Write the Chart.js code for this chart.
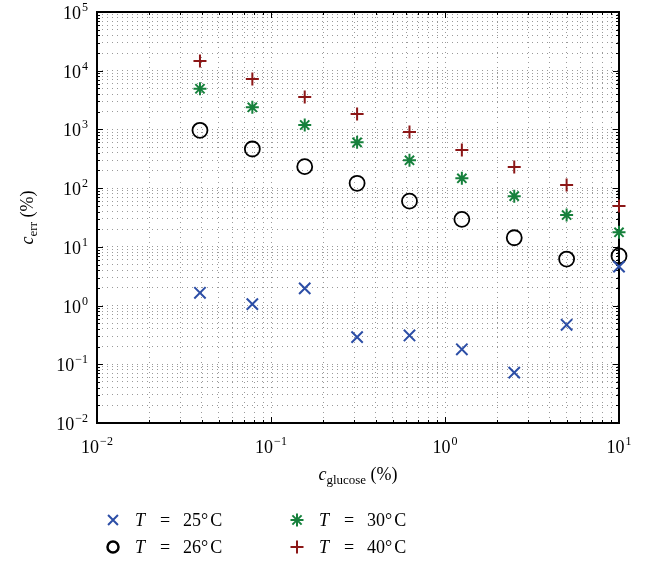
<!DOCTYPE html>
<html>
<head>
<meta charset="utf-8">
<script src="https://cdn.jsdelivr.net/npm/chart.js@4"></script>
<style>
html, body { margin: 0; padding: 0; background: #fff; }
#wrap { width: 648px; height: 562px; position: relative; }
</style>
</head>
<body>
<div id="wrap"><canvas id="chart"></canvas></div>
<script>
// glucose concentration (%) and error (%) per temperature
const glucose = [0.0390625, 0.078125, 0.15625, 0.3125, 0.625, 1.25, 2.5, 5, 10];
const err25 = [1.65, 1.06, 1.96, 0.29, 0.31, 0.18, 0.072, 0.47, 4.6];
const err26 = [966, 464, 232, 121, 60, 29.4, 14.3, 6.2, 7.0];
const err30 = [4930, 2380, 1190, 603, 298, 147, 73, 34.8, 17.7];
const err40 = [14600, 7220, 3570, 1830, 903, 447, 229, 113, 49.5];
const tempLabels = ['25', '26', '30', '40'];
const xDecades = [-2, -1, 0, 1];
const yDecades = [-2, -1, 0, 1, 2, 3, 4, 5];

const SERIF = '"Liberation Serif", "DejaVu Serif", serif';
const colors = ['#2c4ea6', '#000000', '#16803c', '#8c1717'];
const styles = ['crossRot', 'circle', 'star', 'cross'];
const radii = [8, 7.5, 6.5, 6.5];

function logTicks(decades) {
    let out = [];
    for (let i = 0; i < decades.length - 1; i++) {
        for (let k = 1; k <= 9; k++) out.push({ value: k * Math.pow(10, decades[i]), major: k === 1, exp: decades[i] });
    }
    const last = decades[decades.length - 1];
    out.push({ value: Math.pow(10, last), major: true, exp: last });
    return out;
}
const xTicks = logTicks(xDecades);
const yTicks = logTicks(yDecades);

function pts(ys) { return glucose.map((x, i) => ({ x: x, y: ys[i] })); }

function drawPow(ctx, exp, x, y, align) {
    ctx.font = '18px ' + SERIF;
    const base = '10';
    const sup = exp < 0 ? '\u2212' + Math.abs(exp) : String(exp);
    const wb = ctx.measureText(base).width;
    ctx.font = '12px ' + SERIF;
    const ws = ctx.measureText(sup).width;
    let x0 = align === 'right' ? x - wb - ws - 1 : x - (wb + ws + 1) / 2;
    ctx.textAlign = 'left';
    ctx.textBaseline = 'alphabetic';
    ctx.font = '18px ' + SERIF;
    ctx.fillText(base, x0, y);
    ctx.font = '12px ' + SERIF;
    ctx.fillText(sup, x0 + wb + 1, y - 8);
}

const framePlugin = {
    id: 'frame',
    beforeDatasetsDraw(chart) {
        const ctx = chart.ctx, a = chart.chartArea;
        const xs = chart.scales.x, ys = chart.scales.y;
        ctx.save();
        ctx.strokeStyle = '#000';
        ctx.lineWidth = 1;
        ctx.beginPath();
        xTicks.forEach(t => {
            const px = Math.round(xs.getPixelForValue(t.value)) + 0.5;
            const len = t.major ? 6 : 3;
            ctx.moveTo(px, a.bottom); ctx.lineTo(px, a.bottom - len);
            ctx.moveTo(px, a.top); ctx.lineTo(px, a.top + len);
        });
        yTicks.forEach(t => {
            const py = Math.round(ys.getPixelForValue(t.value)) + 0.5;
            const len = t.major ? 6 : 3;
            ctx.moveTo(a.left, py); ctx.lineTo(a.left + len, py);
            ctx.moveTo(a.right, py); ctx.lineTo(a.right - len, py);
        });
        ctx.stroke();
        ctx.lineWidth = 2;
        ctx.strokeRect(a.left, a.top, a.right - a.left, a.bottom - a.top);
        ctx.restore();
    },
    afterDraw(chart) {
        const ctx = chart.ctx, a = chart.chartArea;
        const xs = chart.scales.x, ys = chart.scales.y;
        ctx.save();
        ctx.fillStyle = '#000';
        // tick labels
        xTicks.filter(t => t.major).forEach(t => drawPow(ctx, t.exp, xs.getPixelForValue(t.value), a.bottom + 30, 'center'));
        yTicks.filter(t => t.major).forEach(t => drawPow(ctx, t.exp, a.left - 9, ys.getPixelForValue(t.value) + 7, 'right'));

        // x title
        const cx = (a.left + a.right) / 2;
        ctx.font = 'italic 18px ' + SERIF;
        const w1 = ctx.measureText('c').width;
        ctx.font = '13px ' + SERIF;
        const w2 = ctx.measureText('glucose').width;
        ctx.font = '18px ' + SERIF;
        const w3 = ctx.measureText(' (%)').width;
        let x0 = cx - (w1 + w2 + w3) / 2;
        const by = a.bottom + 57;
        ctx.textAlign = 'left';
        ctx.font = 'italic 18px ' + SERIF; ctx.fillText('c', x0, by);
        ctx.font = '13px ' + SERIF; ctx.fillText('glucose', x0 + w1, by + 4);
        ctx.font = '18px ' + SERIF; ctx.fillText(' (%)', x0 + w1 + w2, by);

        // y title
        ctx.save();
        ctx.translate(33, (a.top + a.bottom) / 2);
        ctx.rotate(-Math.PI / 2);
        ctx.font = 'italic 18px ' + SERIF;
        const v1 = ctx.measureText('c').width;
        ctx.font = '13px ' + SERIF;
        const v2 = ctx.measureText('err').width;
        ctx.font = '18px ' + SERIF;
        const v3 = ctx.measureText(' (%)').width;
        let y0 = -(v1 + v2 + v3) / 2;
        ctx.font = 'italic 18px ' + SERIF; ctx.fillText('c', y0, 0);
        ctx.font = '13px ' + SERIF; ctx.fillText('err', y0 + v1, 4);
        ctx.font = '18px ' + SERIF; ctx.fillText(' (%)', y0 + v1 + v2, 0);
        ctx.restore();

        // legend, two columns
        const cols = [113, 297], rows = [520, 547];
        tempLabels.forEach((lab, i) => {
            const mx = cols[Math.floor(i / 2)], my = rows[i % 2];
            ctx.strokeStyle = colors[i];
            ctx.fillStyle = 'rgba(0,0,0,0)';
            ctx.lineWidth = i === 1 ? 2.5 : 2;
            Chart.helpers.drawPoint(ctx, { pointStyle: styles[i], radius: i === 1 ? 5.5 : (i === 0 ? 7 : 6.5), rotation: 0, borderWidth: ctx.lineWidth }, mx, my);
            ctx.fillStyle = '#000';
            const tx = mx + 22, ty = my + 6;
            ctx.font = 'italic 18px ' + SERIF; ctx.fillText('T', tx, ty);
            ctx.font = '18px ' + SERIF;
            ctx.fillText('=', tx + 25, ty);
            ctx.fillText(lab + '\u00B0', tx + 48, ty);
            ctx.fillText('C', tx + 48 + ctx.measureText(lab + '\u00B0').width + 2, ty);
        });
        ctx.restore();
    }
};

const datasets = [err25, err26, err30, err40].map((ys, i) => ({
    label: 'T = ' + tempLabels[i] + '\u00B0C',
    data: pts(ys),
    showLine: false,
    pointStyle: styles[i],
    pointRadius: radii[i],
    pointHoverRadius: radii[i],
    pointBorderColor: colors[i],
    pointBackgroundColor: 'rgba(0,0,0,0)',
    pointBorderWidth: i === 1 ? 1.8 : 2,
    clip: false
}));

const axisBase = {
    type: 'logarithmic',
    ticks: { display: false },
    grid: { color: '#9a9a9a', lineWidth: 1, drawTicks: false },
    border: { display: false, dash: [1, 4] }
};

new Chart(document.getElementById('chart'), {
    type: 'scatter',
    data: { datasets: datasets },
    options: {
        responsive: true,
        maintainAspectRatio: false,
        devicePixelRatio: 1,
        animation: false,
        layout: { padding: { left: 97, right: 29, top: 12, bottom: 139 } },
        plugins: { legend: { display: false }, tooltip: { enabled: false } },
        scales: {
            x: { ...axisBase, min: 0.01, max: 10, afterBuildTicks: s => { s.ticks = xTicks.map(t => ({ value: t.value })); } },
            y: { ...axisBase, min: 0.01, max: 100000, afterBuildTicks: s => { s.ticks = yTicks.map(t => ({ value: t.value })); } }
        }
    },
    plugins: [framePlugin]
});
</script>
</body>
</html>
